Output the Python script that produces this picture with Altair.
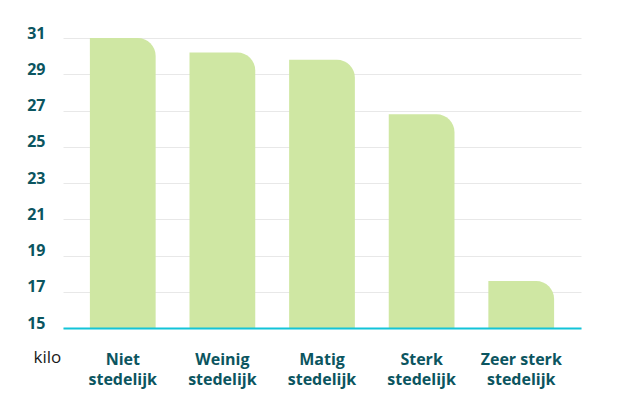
import altair as alt
import pandas as pd

categories = ["Niet stedelijk", "Weinig stedelijk", "Matig stedelijk", "Sterk stedelijk", "Zeer sterk stedelijk"]
values = [31.0, 30.2, 29.8, 26.8, 17.6]
y_ticks = [15, 17, 19, 21, 23, 25, 27, 29, 31]
y_min, y_max = 15, 31

df = pd.DataFrame({"cat": categories, "val": values})

label_expr = ("[slice(datum.label, 0, lastindexof(datum.label, ' ')), "
              "slice(datum.label, lastindexof(datum.label, ' ') + 1)]")

chart = alt.Chart(df).mark_bar(
    color="#cfe7a3",
    cornerRadiusTopRight=18,
).encode(
    x=alt.X("cat:N", sort=categories,
            scale=alt.Scale(paddingInner=0.34, paddingOuter=0.27),
            axis=alt.Axis(title=None, labelAngle=0, labelExpr=label_expr,
                          labelFont="Open Sans", labelFontWeight="bold", labelFontSize=16,
                          labelColor="#0b5560", labelLineHeight=20, labelPadding=23,
                          labelOverlap=False, labelLimit=200,
                          ticks=False, domainColor="#13c4d8", domainWidth=2,
                          labelBaseline="top", zindex=1)),
    y=alt.Y("val:Q", scale=alt.Scale(domain=[y_min, y_max], nice=False, zero=False),
            axis=alt.Axis(title="kilo", values=y_ticks, titleAngle=0, titleX=-30, titleY=324,
                          titleAlign="left", titleFont="Open Sans", titleFontWeight="normal",
                          titleFontSize=17, titleColor="#1a1a1a", titleBaseline="alphabetic",
                          labelFont="Open Sans", labelFontWeight="bold", labelFontSize=16,
                          labelColor="#0b5560", labelPadding=18, labelBaseline="alphabetic",
                          ticks=False, domain=False, gridColor="#e8e8e8", gridWidth=1)),
    y2=alt.datum(y_min),
).properties(
    width=518, height=290,
    autosize=alt.AutoSizeParams(type="none"),
    padding={"left": 55, "top": 30, "right": 30, "bottom": 72},
).configure_view(stroke=None)

chart.save("out.html", embed_options={"renderer": "svg", "actions": False})
